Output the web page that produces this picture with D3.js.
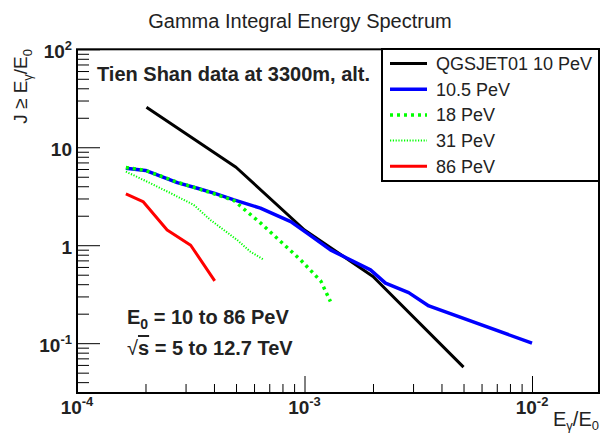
<!DOCTYPE html>
<html>
<head>
<meta charset="utf-8">
<script src="https://cdn.jsdelivr.net/npm/d3@7"></script>
<style>
  body { margin: 0; background: #fff; }
  svg { display: block; font-family: "Liberation Sans", Arial, Helvetica, sans-serif; }
</style>
</head>
<body>
<svg id="chart" width="601" height="435"></svg>
<script>
// Valors llegits del gràfic (J >= Eγ/E0 en funció de Eγ/E0)
const qgsX = [2.02e-4, 5.0e-4, 1.0e-3, 2.0e-3, 5.0e-3];
const qgsY = [25.6, 6.25, 1.43, 0.48, 0.057];

const pev10X = [1.64e-4, 2.0e-4, 2.76e-4, 3.38e-4, 4.0e-4, 4.9e-4, 6.4e-4, 8.7e-4, 1.03e-3, 1.3e-3, 1.54e-3, 1.95e-3, 2.27e-3, 2.87e-3, 3.52e-3, 1.0e-2];
const pev10Y = [6.1, 5.8, 4.35, 3.82, 3.4, 2.9, 2.39, 1.74, 1.32, 0.895, 0.736, 0.56, 0.41, 0.328, 0.24, 0.1];

const pev18X = [1.64e-4, 2.0e-4, 2.76e-4, 3.38e-4, 4.0e-4, 4.9e-4, 6.4e-4, 9.6e-4, 1.18e-3, 1.3e-3];
const pev18Y = [6.2, 5.8, 4.4, 3.8, 3.35, 2.85, 1.69, 0.71, 0.43, 0.266];

const pev31X = [1.64e-4, 1.96e-4, 2.58e-4, 3.26e-4, 3.86e-4, 5.06e-4, 5.78e-4, 6.56e-4];
const pev31Y = [5.64, 4.64, 3.4, 2.58, 1.81, 1.13, 0.86, 0.72];

const pev86X = [1.64e-4, 1.95e-4, 2.49e-4, 3.16e-4, 4.03e-4];
const pev86Y = [3.34, 2.79, 1.43, 1.0, 0.433];

const seriesNames = ['QGSJET01 10 PeV', '10.5 PeV', '18 PeV', '31 PeV', '86 PeV'];

const xMajor = [1e-4, 1e-3, 1e-2];
const xMajorExp = ['-4', '-3', '-2'];
const yMajor = [0.1, 1, 10, 100];
const yMajorLabels = [['10', '-1'], ['1', ''], ['10', ''], ['10', '2']];

const svg = d3.select('#chart');
const plotLeft = 77, plotRight = 599, plotTop = 49.3, plotBottom = 393;

const x = d3.scaleLog().domain([1e-4, 0.0197]).range([plotLeft, plotRight]);
const y = d3.scaleLog().domain([0.031, 100]).range([plotBottom, plotTop]);

function minorTicks(lo, hi) {
    const out = [];
    for (let e = Math.floor(Math.log10(lo)); e <= Math.ceil(Math.log10(hi)); e++) {
        for (let m = 2; m <= 9; m++) {
            const v = m * Math.pow(10, e);
            if (v > lo && v < hi) out.push(v);
        }
    }
    return out;
}

// Marc
svg.append('rect')
    .attr('x', plotLeft).attr('y', plotTop)
    .attr('width', plotRight - plotLeft).attr('height', plotBottom - plotTop)
    .attr('fill', 'none').attr('stroke', '#000').attr('stroke-width', 2);

// Eixos amb marques cap a dins
function drawAxis(axis, transform) {
    const g = svg.append('g').attr('transform', transform).call(axis);
    g.select('.domain').remove();
    g.selectAll('text').remove();
    g.selectAll('line').attr('stroke', '#000').attr('stroke-width', 1);
}
drawAxis(d3.axisBottom(x).tickValues(xMajor).tickSize(-17), `translate(0,${plotBottom})`);
drawAxis(d3.axisBottom(x).tickValues(minorTicks(1e-4, 0.0197)).tickSize(-9), `translate(0,${plotBottom})`);
drawAxis(d3.axisLeft(y).tickValues(yMajor).tickSize(-23), `translate(${plotLeft},0)`);
drawAxis(d3.axisLeft(y).tickValues(minorTicks(0.031, 100)).tickSize(-12), `translate(${plotLeft},0)`);

// Etiquetes dels eixos
xMajor.forEach((v, i) => {
    const t = svg.append('text')
        .attr('x', x(v)).attr('y', 414)
        .attr('text-anchor', 'middle')
        .attr('font-size', 19).attr('font-weight', 'bold').attr('fill', '#222');
    t.append('tspan').text('10');
    t.append('tspan').attr('dy', -8).attr('font-size', 13).text(xMajorExp[i]);
});
yMajor.forEach((v, i) => {
    const t = svg.append('text')
        .attr('x', 72).attr('y', y(v) + 9)
        .attr('text-anchor', 'end')
        .attr('font-size', 19).attr('font-weight', 'bold').attr('fill', '#222');
    t.append('tspan').text(yMajorLabels[i][0]);
    if (yMajorLabels[i][1]) t.append('tspan').attr('dy', -8).attr('font-size', 13).text(yMajorLabels[i][1]);
});

// Títol de l'eix X
const xt = svg.append('text').attr('x', 599).attr('y', 426)
    .attr('text-anchor', 'end').attr('font-size', 20).attr('fill', '#222');
xt.append('tspan').text('E');
xt.append('tspan').attr('dy', 4).attr('font-size', 13).text('γ');
xt.append('tspan').attr('dy', -4).text('/E');
xt.append('tspan').attr('dy', 4).attr('font-size', 13).text('0');

// Títol de l'eix Y
const yt = svg.append('text')
    .attr('transform', 'translate(27,49) rotate(-90)')
    .attr('text-anchor', 'end').attr('font-size', 19).attr('fill', '#222');
yt.append('tspan').text('J ≥ E');
yt.append('tspan').attr('dy', 5).attr('font-size', 13).text('γ');
yt.append('tspan').attr('dy', -5).text('/E');
yt.append('tspan').attr('dy', 5).attr('font-size', 13).text('0');

// Títol
svg.append('text').attr('x', 300).attr('y', 28)
    .attr('text-anchor', 'middle').attr('font-size', 20).attr('fill', '#222')
    .text('Gamma Integral Energy Spectrum');

// Anotacions
svg.append('text').attr('x', 97).attr('y', 81)
    .attr('font-size', 20).attr('font-weight', 'bold').attr('fill', '#222')
    .text('Tien Shan data at 3300m, alt.');

const e0 = svg.append('text').attr('x', 127).attr('y', 324)
    .attr('font-size', 20).attr('font-weight', 'bold').attr('fill', '#222');
e0.append('tspan').text('E');
e0.append('tspan').attr('dy', 5).attr('font-size', 14).text('0');
e0.append('tspan').attr('dy', -5).text(' = 10 to 86 PeV');

const rs = svg.append('text').attr('x', 127).attr('y', 355)
    .attr('font-size', 20).attr('font-weight', 'bold').attr('fill', '#222');
rs.append('tspan').attr('font-weight', 'normal').text('√');
rs.append('tspan').style('text-decoration', 'overline').text('s');
rs.append('tspan').text(' = 5 to 12.7 TeV');

// Corbes
const series = [
    { xs: qgsX, ys: qgsY, color: '#000000', width: 3, dash: null },
    { xs: pev10X, ys: pev10Y, color: '#0000ff', width: 3.5, dash: null },
    { xs: pev18X, ys: pev18Y, color: '#00ff00', width: 3.5, dash: '3,4' },
    { xs: pev31X, ys: pev31Y, color: '#00ff00', width: 2, dash: '1.2,1.6' },
    { xs: pev86X, ys: pev86Y, color: '#ff0000', width: 3, dash: null }
];

const line = d3.line().x(d => x(d[0])).y(d => y(d[1]));

svg.append('g').selectAll('path')
    .data(series)
    .enter().append('path')
    .attr('d', s => line(s.xs.map((v, i) => [v, s.ys[i]])))
    .attr('fill', 'none')
    .attr('stroke', s => s.color)
    .attr('stroke-width', s => s.width)
    .attr('stroke-dasharray', s => s.dash)
    .attr('stroke-linejoin', 'round');

// Llegenda
const leg = svg.append('g');
leg.append('rect').attr('x', 382).attr('y', 49).attr('width', 217).attr('height', 132)
    .attr('fill', '#fff').attr('stroke', '#000').attr('stroke-width', 2);
series.forEach((s, i) => {
    const cy = 63.5 + i * 25.7;
    leg.append('line').attr('x1', 390).attr('x2', 427).attr('y1', cy).attr('y2', cy)
        .attr('stroke', s.color).attr('stroke-width', s.width)
        .attr('stroke-dasharray', s.dash);
    leg.append('text').attr('x', 436).attr('y', cy + 6.5)
        .attr('font-size', 18).attr('fill', '#222')
        .text(seriesNames[i]);
});
</script>
</body>
</html>
